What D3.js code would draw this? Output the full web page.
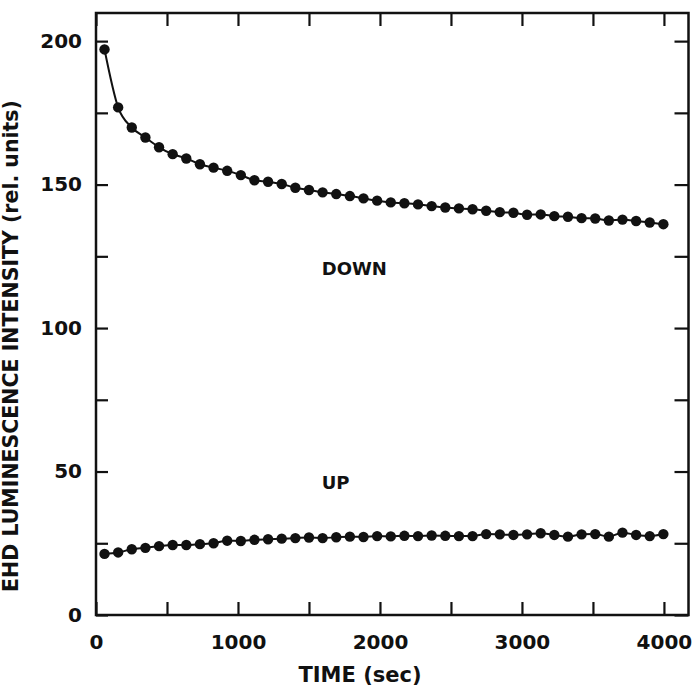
<!DOCTYPE html>
<html>
<head>
<meta charset="utf-8">
<script src="https://cdn.jsdelivr.net/npm/d3@7"></script>
<style>
  body { margin: 0; background: #fff; }
  svg { display: block; }
  text { font-family: "DejaVu Sans", sans-serif; font-weight: bold; fill: #111; }
</style>
</head>
<body>
<script>
'use strict';

// sample times (sec)
const times = [60, 156, 252, 348, 444, 540, 636, 732, 828, 924, 1020, 1116, 1212, 1308,
  1404, 1500, 1596, 1692, 1788, 1884, 1980, 2076, 2172, 2268, 2364, 2460, 2556, 2652,
  2748, 2844, 2940, 3036, 3132, 3228, 3324, 3420, 3516, 3612, 3708, 3804, 3900, 3996];

// EHD luminescence, DOWN run
const downValues = [197.1, 176.9, 169.9, 166.4, 163.0, 160.6, 159.1, 157.1, 155.9, 154.8,
  153.3, 151.5, 151.0, 150.2, 148.9, 148.1, 147.3, 146.7, 146.0, 145.2, 144.4, 143.8,
  143.5, 143.1, 142.5, 142.0, 141.7, 141.4, 140.9, 140.4, 140.2, 139.5, 139.6, 139.0,
  138.8, 138.3, 138.2, 137.5, 137.8, 137.3, 136.8, 136.2];

// EHD luminescence, UP run
const upValues = [21.3, 21.8, 22.9, 23.4, 24.0, 24.4, 24.4, 24.7, 25.0, 25.9, 25.8,
  26.2, 26.4, 26.6, 26.8, 27.0, 26.8, 27.1, 27.3, 27.2, 27.5, 27.4, 27.6, 27.5, 27.7,
  27.6, 27.5, 27.5, 28.2, 28.1, 27.9, 28.1, 28.5, 27.9, 27.3, 28.1, 28.2, 27.3, 28.7,
  27.9, 27.5, 28.2];

const xTicks = [0, 500, 1000, 1500, 2000, 2500, 3000, 3500, 4000];
const xTickLabels = [0, 1000, 2000, 3000, 4000];
const yTicks = [0, 25, 50, 75, 100, 125, 150, 175, 200];
const yTickLabels = [0, 50, 100, 150, 200];

// run labels: [text, time, value]
const runLabels = [["DOWN", 1590, 118.5], ["UP", 1590, 43.9]];

(function() {

  let svg = d3.select('body').append('svg')
    .attr('width', 694)
    .attr('height', 690);

  let xScale = d3.scaleLinear().domain([0, 4173]).range([96, 688.5]);
  let yScale = d3.scaleLinear().domain([0, 209.8]).range([615, 13]);

  let fontSize = 20;

  // bottom axis with labels
  let axBottom = svg.append('g')
    .attr('transform', 'translate(0,615)')
    .call(d3.axisBottom(xScale).tickValues(xTicks).tickSize(-13).tickPadding(20)
      .tickFormat((d) => xTickLabels.includes(d) ? d : ''));

  // top axis, ticks only
  let axTop = svg.append('g')
    .attr('transform', 'translate(0,13)')
    .call(d3.axisTop(xScale).tickValues(xTicks).tickSize(-13).tickFormat(''));

  // left axis with labels
  let axLeft = svg.append('g')
    .attr('transform', 'translate(96,0)')
    .call(d3.axisLeft(yScale).tickValues(yTicks).tickSize(-12).tickPadding(14)
      .tickFormat((d) => yTickLabels.includes(d) ? d : ''));

  // right axis, ticks only
  let axRight = svg.append('g')
    .attr('transform', 'translate(688.5,0)')
    .call(d3.axisRight(yScale).tickValues(yTicks).tickSize(-14).tickFormat(''));

  [axBottom, axTop, axLeft, axRight].forEach((g) => {
    g.select('.domain').remove();
    g.selectAll('line').attr('stroke', '#111').attr('stroke-width', 2.2);
    g.selectAll('text')
      .attr('font-family', '"DejaVu Sans", sans-serif')
      .attr('font-weight', 'bold')
      .attr('font-size', fontSize)
      .attr('fill', '#111');
  });

  // frame
  svg.append('rect')
    .attr('x', xScale(0))
    .attr('y', yScale(209.8))
    .attr('width', xScale(4173) - xScale(0))
    .attr('height', yScale(0) - yScale(209.8))
    .attr('fill', 'none')
    .attr('stroke', '#111')
    .attr('stroke-width', 2.5);

  // curves and points
  let line = d3.line()
    .x((d) => xScale(d[0]))
    .y((d) => yScale(d[1]))
    .curve(d3.curveMonotoneX);

  [downValues, upValues].forEach((vals) => {
    let pts = times.map((t, i) => [t, vals[i]]);
    svg.append('path')
      .datum(pts)
      .attr('d', line)
      .attr('fill', 'none')
      .attr('stroke', '#111')
      .attr('stroke-width', 2);
    svg.append('g').selectAll('circle')
      .data(pts)
      .enter()
      .append('circle')
        .attr('cx', (d) => xScale(d[0]))
        .attr('cy', (d) => yScale(d[1]))
        .attr('r', 5.2)
        .attr('fill', '#111');
  });

  // run labels
  svg.selectAll('.run')
    .data(runLabels)
    .enter()
    .append('text')
      .attr('class', 'run')
      .attr('x', (d) => xScale(d[1]))
      .attr('y', (d) => yScale(d[2]))
      .style('font-size', '18px')
      .text((d) => d[0]);

  // axis titles
  svg.append('text')
    .attr('x', 360)
    .attr('y', 682)
    .attr('text-anchor', 'middle')
    .style('font-size', '21px')
    .text('TIME (sec)');

  svg.append('text')
    .attr('transform', 'translate(18,346)rotate(-90)')
    .attr('text-anchor', 'middle')
    .style('font-size', '20.5px')
    .text('EHD LUMINESCENCE INTENSITY (rel. units)');

})();
</script>
</body>
</html>
